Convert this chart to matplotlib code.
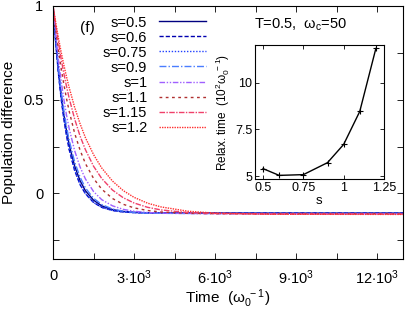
import matplotlib
matplotlib.use("Agg")
import matplotlib.pyplot as plt

# time samples (units of 1/omega_0)
time = [0, 100, 200, 300, 400, 500, 600, 800, 1000, 1200, 1500, 1800,
        2200, 2600, 3000, 3500, 4000, 5000, 6000, 8000, 13000]

# population difference, one list per s
pop_s050 = [1, .813, .659, .529, .422, .333, .259, .146, .068, .014, -.036, -.066,
            -.086, -.096, -.101, -.103, -.104, -.105, -.105, -.105, -.105]
pop_s060 = [1, .801, .639, .505, .396, .306, .232, .122, .047, -.002, -.048, -.074,
            -.091, -.099, -.102, -.104, -.105, -.105, -.105, -.105, -.105]
pop_s075 = [1, .803, .641, .508, .398, .309, .235, .124, .049, -.001, -.048, -.074,
            -.091, -.099, -.103, -.105, -.106, -.106, -.106, -.106, -.106]
pop_s090 = [1, .823, .673, .548, .444, .356, .282, .168, .087, .029, -.026, -.059,
            -.083, -.095, -.101, -.105, -.106, -.107, -.107, -.107, -.107]
pop_s100 = [1, .846, .714, .600, .502, .417, .344, .228, .141, .077, .010, -.033,
            -.066, -.085, -.095, -.102, -.105, -.107, -.108, -.108, -.108]
pop_s110 = [1, .877, .766, .668, .582, .505, .437, .321, .231, .159, .080, .023,
            -.027, -.058, -.077, -.091, -.099, -.106, -.108, -.109, -.109]
pop_s115 = [1, .897, .802, .717, .640, .570, .506, .397, .306, .233, .145, .080,
            .018, -.023, -.051, -.074, -.088, -.102, -.107, -.110, -.110]
pop_s120 = [1, .911, .829, .754, .685, .621, .563, .459, .372, .297, .207, .136,
            .066, .015, -.021, -.052, -.072, -.095, -.105, -.111, -.112]

labels = ["s=0.5", "s=0.6", "s=0.75", "s=0.9", "s=1", "s=1.1", "s=1.15", "s=1.2"]
series = [pop_s050, pop_s060, pop_s075, pop_s090, pop_s100, pop_s110, pop_s115, pop_s120]

# inset: relaxation time vs s
inset_s = [0.5, 0.6, 0.75, 0.9, 1.0, 1.1, 1.2]
inset_tau = [5.41, 5.05, 5.09, 5.73, 6.70, 8.46, 11.82]

colors = ["#000080", "#0000b0", "#2040ff", "#4a7dff", "#a060ff",
          "#b03030", "#f0406a", "#ff3030"]
styles = ["-", (0, (3, 1.5)), (0, (1, 1.2)), (0, (5, 1.5, 1, 1.5)),
          (0, (4, 1.2, 1, 1.2, 1, 1.2)), (0, (2, 2.5)), (0, (4, 1, 1, 1)),
          (0, (1, 0.8))]

plt.rcParams["font.family"] = ["Liberation Sans", "DejaVu Sans"]
plt.rcParams["mathtext.fontset"] = "custom"
plt.rcParams["mathtext.rm"] = "Liberation Sans"
plt.rcParams["mathtext.it"] = "Liberation Sans"

fig = plt.figure(figsize=(4.08, 3.11), dpi=100)
ax = fig.add_axes([0.130, 0.167, 0.858, 0.814])

for vals, lab, c, ls in zip(series, labels, colors, styles):
    ax.plot(time, vals, color=c, linestyle=ls, linewidth=1.0, label=lab)

ax.set_xlim(0, 12960)
ax.set_ylim(-0.35, 1.0)
ax.set_xticks([0, 3000, 6000, 9000, 12000])
ax.set_xticklabels(["0", r"3$\cdot$10$^3$", r"6$\cdot$10$^3$",
                    r"9$\cdot$10$^3$", r"12$\cdot$10$^3$"])
ax.set_xticks([1500, 4500, 7500, 10500], minor=True)
ax.set_yticks([-0.25, 0, 0.25, 0.5, 0.75, 1])
ax.set_yticklabels(["", "0", "", "0.5", "", "1"])
ax.tick_params(which="both", direction="in", top=True, right=True,
               labelsize=10.5, length=4, width=0.6)
ax.tick_params(axis="x", pad=7)
ax.tick_params(axis="y", pad=7)
for sp in ax.spines.values():
    sp.set_linewidth(0.8)
ax.set_xlabel(r"Time  ($\omega_0^{\ -1}$)", fontsize=11, labelpad=0)
ax.set_ylabel("Population difference", fontsize=11, labelpad=5)

ax.text(0.077, 0.895, "(f)", transform=ax.transAxes, fontsize=11)
ax.text(0.575, 0.91, r"T=0.5,  $\omega_{\rm c}$=50", transform=ax.transAxes,
        fontsize=10.5)

ax.legend(loc="upper right", bbox_to_anchor=(0.436, 0.962), frameon=False,
          markerfirst=False, fontsize=10.5, handlelength=3.2, handletextpad=0.8,
          labelspacing=0.07, borderpad=0, borderaxespad=0)

ins = fig.add_axes([0.625, 0.424, 0.316, 0.431])
ins.plot(inset_s, inset_tau, color="black", linewidth=1.0, marker="+",
         markersize=4, markeredgewidth=0.8)
ins.set_xlim(0.45, 1.25)
ins.set_ylim(4.85, 12.0)
ins.set_xticks([0.5, 0.75, 1, 1.25])
ins.set_xticklabels(["0.5", "0.75", "1", "1.25"])
ins.set_yticks([5, 7.5, 10])
ins.set_yticklabels(["5", "7.5", "10"])
ins.tick_params(which="both", direction="in", top=True, right=True,
                labelsize=9, length=3, width=0.6, pad=2)
for sp in ins.spines.values():
    sp.set_linewidth(0.8)
ins.set_xlabel("s", fontsize=9.5, labelpad=1)
ins.set_ylabel(r"Relax. time  (10$^2$$\omega_0^{\ -1}$)", fontsize=8.5, labelpad=2)

fig.savefig("out.png", dpi=100)
